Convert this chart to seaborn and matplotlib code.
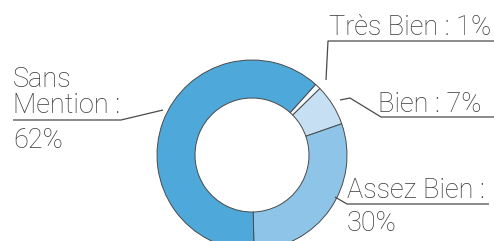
import matplotlib
matplotlib.use("Agg")
import matplotlib.pyplot as plt
import seaborn as sns

sns.set_theme(style="white")
plt.rcParams["font.family"] = ["Roboto", "DejaVu Sans"]

# data
categories = ["Très Bien", "Bien", "Assez Bien", "Sans Mention"]
values = [1, 7, 30, 62]
colors = ["#f4f9fd", "#c6dff2", "#8dc4e8", "#4ea9da"]

W, H = 494, 241
CX, CY = 252, 155  # donut centre in pixels
TXT = "#383838"
LINE = "#4a4a4a"

fig = plt.figure(figsize=(W / 100, H / 100), dpi=100)
ax = fig.add_axes([0, 0, 1, 1])

ax.pie(values, colors=colors, radius=95, startangle=48, counterclock=False,
       wedgeprops=dict(width=38, edgecolor=LINE, linewidth=0.7))

# pie() resets the limits, so set them afterwards (1 data unit = 1 pixel)
ax.set_xlim(-CX, W - CX)
ax.set_ylim(-(H - CY), CY)
ax.set_aspect("equal")
ax.axis("off")


def px(x, y):
    return x - CX, CY - y


def leader(points):
    xs, ys = zip(*[px(x, y) for x, y in points])
    ax.plot(xs, ys, color=LINE, lw=0.9, solid_capstyle="butt")


def label(x, y, s):
    tx, ty = px(x, y)
    ax.text(tx, ty, s, ha="left", va="baseline", fontsize=19.5,
            fontweight="light", color=TXT)


# Très Bien
leader([(326, 80), (328, 41), (494, 41)])
label(329, 35, f"{categories[0]} : {values[0]}%")
# Bien
leader([(340, 100), (350, 98), (381, 117), (494, 117)])
label(378, 112, f"{categories[1]} : {values[1]}%")
# Assez Bien
leader([(335, 197), (347, 204), (489, 204)])
label(347, 198, f"{categories[2]} :")
label(347, 231, f"{values[2]}%")
# Sans Mention
leader([(163, 110), (121, 120), (13, 120)])
label(13, 87, "Sans")
label(13, 113, "Mention :")
label(13, 148, f"{values[3]}%")

fig.savefig("out.png", dpi=100)
